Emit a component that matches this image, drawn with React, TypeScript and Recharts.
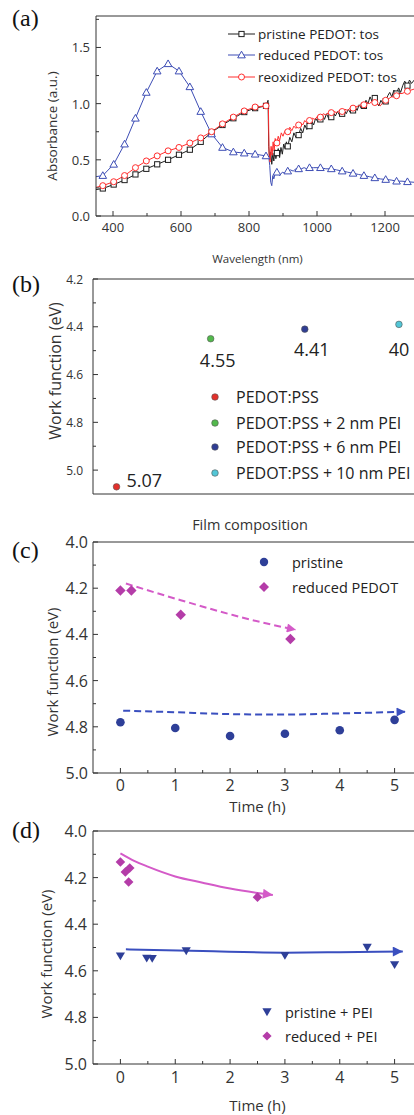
import React from 'react';
import { ComposedChart, Line, Scatter, XAxis, YAxis, Legend, ReferenceLine } from 'recharts';

const SANS = '"Open Sans", "Noto Sans", sans-serif';
const SERIF = '"Liberation Serif", "DejaVu Serif", serif';
const AXIS = '#333333';
const TXT = '#333333';

// ---------------- Panel (a) data ----------------
const A_NAMES = ['pristine PEDOT: tos', 'reduced PEDOT: tos', 'reoxidized PEDOT: tos'];
const A_COLORS = ['#1e1e1e', '#3d4db5', '#ff2e2e'];
const A_MARKER_NM = [370, 402, 434, 466, 498, 530, 562, 594, 626, 658, 690, 722, 754, 786, 818, 850,
  882, 914, 946, 978, 1010, 1042, 1074, 1106, 1138, 1170, 1202, 1234, 1266];
const A_PRISTINE: number[][] = [
  [350, 0.235], [370, 0.245], [402, 0.28], [434, 0.32], [466, 0.37], [498, 0.42], [530, 0.46], [562, 0.5],
  [594, 0.545], [626, 0.59], [658, 0.66], [690, 0.745], [722, 0.81], [754, 0.87], [786, 0.925], [818, 0.96],
  [850, 0.98], [856, 1.03], [858, 0.62], [861, 0.5], [864, 0.57], [867, 0.46], [870, 0.56], [873, 0.49],
  [876, 0.59], [879, 0.51], [882, 0.56], [886, 0.6], [890, 0.52], [894, 0.61], [898, 0.55], [902, 0.64],
  [906, 0.6], [910, 0.66], [914, 0.62], [920, 0.7], [926, 0.66], [932, 0.74], [938, 0.7], [946, 0.72],
  [952, 0.78], [958, 0.74], [964, 0.81], [970, 0.77], [978, 0.8], [984, 0.85], [990, 0.81], [996, 0.87],
  [1002, 0.84], [1010, 0.86], [1016, 0.9], [1022, 0.86], [1028, 0.91], [1034, 0.87], [1042, 0.88],
  [1048, 0.92], [1054, 0.89], [1060, 0.93], [1066, 0.9], [1074, 0.91], [1080, 0.94], [1086, 0.91],
  [1092, 0.95], [1098, 0.92], [1106, 0.94], [1112, 0.97], [1118, 0.94], [1124, 0.99], [1130, 0.96],
  [1138, 0.98], [1144, 1.03], [1150, 1.0], [1156, 1.06], [1162, 1.02], [1170, 1.05], [1176, 1.0],
  [1182, 0.98], [1188, 1.03], [1194, 1.0], [1202, 1.02], [1208, 1.07], [1214, 1.1], [1220, 1.06],
  [1226, 1.12], [1234, 1.09], [1240, 1.14], [1246, 1.1], [1252, 1.16], [1258, 1.2], [1266, 1.16],
  [1272, 1.21], [1278, 1.18], [1286, 1.21],
];
const A_REDUCED: number[][] = [
  [350, 0.35], [370, 0.36], [402, 0.46], [434, 0.64], [466, 0.87], [498, 1.1], [530, 1.29], [562, 1.355],
  [594, 1.29], [626, 1.15], [658, 0.93], [690, 0.73], [722, 0.61], [754, 0.57], [786, 0.56], [818, 0.55],
  [850, 0.535], [858, 0.53], [861, 0.45], [864, 0.3], [867, 0.27], [870, 0.36], [873, 0.33], [877, 0.38],
  [882, 0.39], [890, 0.36], [898, 0.39], [906, 0.38], [914, 0.4], [922, 0.41], [930, 0.4], [938, 0.42],
  [946, 0.42], [954, 0.42], [962, 0.43], [970, 0.42], [978, 0.43], [990, 0.43], [1000, 0.43], [1010, 0.43],
  [1026, 0.42], [1042, 0.42], [1058, 0.41], [1074, 0.4], [1090, 0.39], [1106, 0.38], [1122, 0.37],
  [1138, 0.36], [1154, 0.35], [1170, 0.34], [1186, 0.33], [1202, 0.325], [1218, 0.32], [1234, 0.31],
  [1250, 0.31], [1266, 0.305], [1286, 0.3],
];
const A_REOX: number[][] = [
  [350, 0.255], [370, 0.27], [402, 0.305], [434, 0.36], [466, 0.43], [498, 0.49], [530, 0.535], [562, 0.58],
  [594, 0.61], [626, 0.65], [658, 0.695], [690, 0.75], [722, 0.82], [754, 0.88], [786, 0.935], [818, 0.97],
  [850, 0.98], [857, 0.99], [859, 0.55], [862, 0.48], [865, 0.62], [868, 0.54], [871, 0.66], [874, 0.58],
  [877, 0.69], [882, 0.65], [886, 0.71], [890, 0.67], [895, 0.74], [900, 0.71], [906, 0.76], [914, 0.75],
  [920, 0.79], [926, 0.76], [932, 0.8], [938, 0.78], [946, 0.81], [952, 0.83], [958, 0.81], [964, 0.85],
  [970, 0.83], [978, 0.85], [986, 0.87], [994, 0.86], [1002, 0.89], [1010, 0.88], [1018, 0.91],
  [1026, 0.9], [1034, 0.92], [1042, 0.92], [1050, 0.93], [1058, 0.92], [1066, 0.94], [1074, 0.93],
  [1082, 0.95], [1090, 0.94], [1098, 0.96], [1106, 0.96], [1114, 0.97], [1122, 0.98], [1130, 0.99],
  [1138, 0.99], [1146, 1.01], [1154, 1.0], [1162, 1.02], [1170, 1.01], [1178, 1.0], [1186, 0.98],
  [1194, 1.01], [1202, 1.03], [1210, 1.04], [1218, 1.06], [1226, 1.06], [1234, 1.07], [1242, 1.09],
  [1250, 1.09], [1258, 1.1], [1266, 1.11], [1276, 1.12], [1286, 1.13],
];
const A_X_MAJOR = [400, 600, 800, 1000, 1200];
const A_X_MINOR = [500, 700, 900, 1100];
const A_Y_MAJOR = [0, 0.5, 1.0, 1.5];
const A_Y_MINOR = [0.25, 0.75, 1.25, 1.75];

// ---------------- Panel (b) data ----------------
const B_NAMES = ['PEDOT:PSS', 'PEDOT:PSS + 2 nm PEI', 'PEDOT:PSS + 6 nm PEI', 'PEDOT:PSS + 10 nm PEI'];
const B_POS = [1, 2, 3, 4];
const B_WF = [5.07, 4.45, 4.41, 4.39];
const B_LABELS = ['5.07', '4.55', '4.41', '40'];
const B_COLORS = ['#e3302b', '#52b94c', '#2f3d94', '#52c6d6'];
const B_Y_MAJOR = [4.2, 4.4, 4.6, 4.8, 5.0];
const B_Y_MINOR = [4.3, 4.5, 4.7, 4.9];

// ---------------- Panel (c) data ----------------
const C_NAMES = ['pristine', 'reduced PEDOT'];
const C_PRISTINE_T = [0, 1, 2, 3, 4, 5];
const C_PRISTINE_WF = [4.78, 4.805, 4.84, 4.83, 4.815, 4.77];
const C_REDUCED_T = [0, 0.2, 1.1, 3.1];
const C_REDUCED_WF = [4.21, 4.21, 4.315, 4.42];
const C_TREND_RED_T = [0.1, 1.1, 2.05, 2.65, 3.2];
const C_TREND_RED_WF = [4.18, 4.252, 4.316, 4.352, 4.38];
const C_TREND_PRI_T = [0.05, 1, 2, 3, 4, 5.2];
const C_TREND_PRI_WF = [4.73, 4.737, 4.745, 4.747, 4.742, 4.735];

// ---------------- Panel (d) data ----------------
const D_NAMES = ['pristine + PEI', 'reduced + PEI'];
const D_PRISTINE_T = [0, 0.48, 0.58, 1.2, 3, 4.5, 5];
const D_PRISTINE_WF = [4.537, 4.547, 4.548, 4.515, 4.535, 4.5, 4.575];
const D_REDUCED_T = [0, 0.09, 0.17, 0.15, 2.5];
const D_REDUCED_WF = [4.133, 4.176, 4.159, 4.219, 4.284];
const D_TREND_RED_T = [0, 0.25, 0.5, 1.0, 1.5, 2.0, 2.5, 2.78];
const D_TREND_RED_WF = [4.096, 4.128, 4.153, 4.195, 4.222, 4.247, 4.266, 4.275];
const D_TREND_PRI_T = [0.1, 1.5, 3, 4, 5.15];
const D_TREND_PRI_WF = [4.508, 4.515, 4.522, 4.52, 4.517];

const T_X_MAJOR = [0, 1, 2, 3, 4, 5];
const T_X_MINOR = [0.5, 1.5, 2.5, 3.5, 4.5];
const T_Y_MAJOR = [4.0, 4.2, 4.4, 4.6, 4.8, 5.0];
const T_Y_MINOR = [4.1, 4.3, 4.5, 4.7, 4.9];

// ---------------- helpers ----------------
const pairs = (arr: number[][]) => arr.map(([x, y]) => ({ x, y }));
const zip = (xs: number[], ys: number[]) => xs.map((x, i) => ({ x, y: ys[i] }));
const isIn = (arr: number[], v: number) => arr.some((a) => Math.abs(a - v) < 1e-6);
const f1 = (v: number) => v.toFixed(1);
const f0 = (v: number) => String(v);

type TickOpt = { major: number[]; fmt: (v: number) => string; size: number; margin: number; len?: number; minorLen?: number };

const xTick = (o: TickOpt) => (props: any) => {
  const { x, y, payload } = props;
  const v = Number(payload.value);
  const major = isIn(o.major, v);
  const ay = y - o.margin;
  return (
    <g>
      <line x1={x} x2={x} y1={ay} y2={ay - (major ? (o.len ?? 5) : (o.minorLen ?? 3))} stroke={AXIS} strokeWidth={1} />
      {major ? (
        <text x={x} y={y} textAnchor="middle" dominantBaseline="central" fontSize={o.size} fontFamily={SANS} fill={TXT}>
          {o.fmt(v)}
        </text>
      ) : null}
    </g>
  );
};

const yTick = (o: TickOpt) => (props: any) => {
  const { x, y, payload } = props;
  const v = Number(payload.value);
  const major = isIn(o.major, v);
  const ax = x + o.margin;
  return (
    <g>
      <line x1={ax} x2={ax + (major ? (o.len ?? 5) : (o.minorLen ?? 3))} y1={y} y2={y} stroke={AXIS} strokeWidth={1} />
      {major ? (
        <text x={x} y={y} textAnchor="end" dominantBaseline="central" fontSize={o.size} fontFamily={SANS} fill={TXT}>
          {o.fmt(v)}
        </text>
      ) : null}
    </g>
  );
};

const hTitle = (text: string, cx: number, cy: number, size: number) => () => (
  <text x={cx} y={cy} textAnchor="middle" dominantBaseline="central" fontSize={size} fontFamily={SANS} fill={TXT}>
    {text}
  </text>
);
const vTitle = (text: string, cx: number, cy: number, size: number) => () => (
  <text x={cx} y={cy} transform={`rotate(-90 ${cx} ${cy})`} textAnchor="middle" dominantBaseline="central" fontSize={size} fontFamily={SANS} fill={TXT}>
    {text}
  </text>
);

// markers
const square = (cx: number, cy: number, c: string, s = 2.6) => (
  <rect x={cx - s} y={cy - s} width={2 * s} height={2 * s} fill="#fff" stroke={c} strokeWidth={1} />
);
const triUp = (cx: number, cy: number, c: string, s = 3.8) => (
  <polygon points={`${cx},${cy - s} ${cx + s},${cy + s * 0.75} ${cx - s},${cy + s * 0.75}`} fill="#fff" stroke={c} strokeWidth={1} />
);
const ring = (cx: number, cy: number, c: string, r = 3) => <circle cx={cx} cy={cy} r={r} fill="#fff" stroke={c} strokeWidth={1} />;
const diamond = (cx: number, cy: number, c: string, s = 5) => (
  <polygon points={`${cx},${cy - s} ${cx + s},${cy} ${cx},${cy + s} ${cx - s},${cy}`} fill={c} />
);
const triDown = (cx: number, cy: number, c: string, s = 4.6) => (
  <polygon points={`${cx - s},${cy - s * 0.8} ${cx + s},${cy - s * 0.8} ${cx},${cy + s * 0.9}`} fill={c} />
);
const A_MARKERS = [square, triUp, ring];

const aDot = (idx: number) => (props: any) => {
  const { cx, cy, payload, index } = props;
  if (!payload || !isIn(A_MARKER_NM, payload.x) || cx == null) return <g key={`d${idx}-${index}`} />;
  return <g key={`d${idx}-${index}`}>{A_MARKERS[idx](cx, cy, A_COLORS[idx])}</g>;
};

const svgLegend = (children: React.ReactNode) => (
  <svg width={1} height={1} style={{ overflow: 'visible', position: 'absolute', left: 0, top: 0 }}>
    {children}
  </svg>
);

const legendA = () =>
  svgLegend(
    A_NAMES.map((n, i) => {
      const y = [34, 55, 77][i];
      return (
        <g key={n}>
          <line x1={228} x2={255} y1={y} y2={y} stroke={A_COLORS[i]} strokeWidth={1} />
          {A_MARKERS[i](241.5, y, A_COLORS[i])}
          <text x={258} y={y} dominantBaseline="central" fontSize={13.5} fontFamily={SANS} fill="#222">
            {n}
          </text>
        </g>
      );
    })
  );

const legendB = () =>
  svgLegend(
    B_NAMES.map((n, i) => {
      const y = [127, 153, 177, 203][i];
      return (
        <g key={n}>
          <circle cx={215} cy={y} r={3.3} fill={B_COLORS[i]} stroke="#555" strokeWidth={0.6} />
          <text x={236} y={y} dominantBaseline="central" fontSize={16} fontFamily={SANS} fill="#222">
            {n}
          </text>
        </g>
      );
    })
  );

const C_BLUE = '#2e3f98';
const C_MAG = '#b43ca8';
const C_MAG_LINE = '#d45ac8';
const C_BLUE_LINE = '#3a4fbf';

const legendC = () =>
  svgLegend(
    <g>
      <circle cx={264} cy={62} r={4.2} fill={C_BLUE} />
      <text x={292} y={62} dominantBaseline="central" fontSize={14.5} fontFamily={SANS} fill="#222">{C_NAMES[0]}</text>
      {diamond(264, 87, C_MAG)}
      <text x={292} y={87} dominantBaseline="central" fontSize={14.5} fontFamily={SANS} fill="#222">{C_NAMES[1]}</text>
    </g>
  );

const legendD = () =>
  svgLegend(
    <g>
      {triDown(267, 197, C_BLUE)}
      <text x={285} y={197} dominantBaseline="central" fontSize={14.5} fontFamily={SANS} fill="#222">{D_NAMES[0]}</text>
      {diamond(267, 221, C_MAG, 4.6)}
      <text x={285} y={221} dominantBaseline="central" fontSize={14.5} fontFamily={SANS} fill="#222">{D_NAMES[1]}</text>
    </g>
  );

const LEG_PROPS: any = {
  layout: 'vertical',
  align: 'center',
  verticalAlign: 'middle',
  wrapperStyle: { left: 0, top: 0, width: 1, height: 1 },
};

const B_OFFSETS = [
  { dx: 10, dy: -7, anchor: 'start' },
  { dx: 7, dy: 21, anchor: 'middle' },
  { dx: 7, dy: 20, anchor: 'middle' },
  { dx: 0, dy: 25, anchor: 'middle' },
];

const bShape = (i: number) => (props: any) => {
  const { cx, cy, payload } = props;
  const o = B_OFFSETS[i];
  return (
    <g>
      <circle cx={cx} cy={cy} r={3.3} fill={B_COLORS[i]} stroke="#555" strokeWidth={0.6} />
      <text x={cx + o.dx} y={cy + o.dy} textAnchor={o.anchor as any} dominantBaseline="central" fontSize={18} fontFamily={SANS} fill="#222">
        {payload.label}
      </text>
    </g>
  );
};

export default function App() {
  return (
    <div style={{ position: 'absolute', left: 0, top: 0, width: 414, height: 1115, overflow: 'hidden', background: '#fff' }}>
      <svg width={0} height={0} style={{ position: 'absolute' }}>
        <defs>
          <marker id="arrMagC" viewBox="0 0 10 10" refX="10" refY="5" markerWidth="11" markerHeight="9" markerUnits="userSpaceOnUse" orient="auto">
            <path d="M0,0 L10,5 L0,10 z" fill={C_MAG_LINE} />
          </marker>
          <marker id="arrBlueC" viewBox="0 0 10 10" refX="10" refY="5" markerWidth="11" markerHeight="9" markerUnits="userSpaceOnUse" orient="auto">
            <path d="M0,0 L10,5 L0,10 z" fill={C_BLUE_LINE} />
          </marker>
          <marker id="arrMagD" viewBox="0 0 10 10" refX="10" refY="5" markerWidth="12" markerHeight="10" markerUnits="userSpaceOnUse" orient="auto">
            <path d="M0,0 L10,5 L0,10 z" fill={C_MAG_LINE} />
          </marker>
          <marker id="arrBlueD" viewBox="0 0 10 10" refX="10" refY="5" markerWidth="12" markerHeight="10" markerUnits="userSpaceOnUse" orient="auto">
            <path d="M0,0 L10,5 L0,10 z" fill={C_BLUE_LINE} />
          </marker>
        </defs>
      </svg>

      {/* Panel (a) */}
      <div style={{ position: 'absolute', left: 0, top: 0 }}>
        <ComposedChart width={419} height={270} margin={{ top: 16, right: 0, bottom: 0, left: 0 }}>
          <XAxis
            type="number" dataKey="x" domain={[350, 1300]} allowDataOverflow
            ticks={[...A_X_MAJOR, ...A_X_MINOR]} interval={0} tickSize={0} tickMargin={11} tickLine={false}
            tick={xTick({ major: A_X_MAJOR, fmt: f0, size: 13, margin: 11 })}
            axisLine={{ stroke: AXIS }} height={54}
            label={{ value: 'Wavelength (nm)', content: hTitle('Wavelength (nm)', 257.5, 258, 11.5) }}
          />
          <YAxis
            type="number" dataKey="y" domain={[0, 1.78]} allowDataOverflow
            ticks={[...A_Y_MAJOR, ...A_Y_MINOR]} interval={0} tickSize={0} tickMargin={6} tickLine={false}
            tick={yTick({ major: A_Y_MAJOR, fmt: f1, size: 13, margin: 6 })}
            axisLine={{ stroke: AXIS }} width={96}
            label={{ value: 'Absorbance (a.u.)', content: vTitle('Absorbance (a.u.)', 52, 126, 13.5) }}
          />
          <ReferenceLine y={1.78} stroke={AXIS} />
          <Line data={pairs(A_PRISTINE)} dataKey="y" name={A_NAMES[0]} type="linear" stroke={A_COLORS[0]} strokeWidth={1} dot={aDot(0)} activeDot={false} isAnimationActive={false} />
          <Line data={pairs(A_REDUCED)} dataKey="y" name={A_NAMES[1]} type="linear" stroke={A_COLORS[1]} strokeWidth={1} dot={aDot(1)} activeDot={false} isAnimationActive={false} />
          <Line data={pairs(A_REOX)} dataKey="y" name={A_NAMES[2]} type="linear" stroke={A_COLORS[2]} strokeWidth={1} dot={aDot(2)} activeDot={false} isAnimationActive={false} />
          <Legend {...LEG_PROPS} content={legendA} />
        </ComposedChart>
      </div>

      {/* Panel (b) */}
      <div style={{ position: 'absolute', left: 0, top: 270 }}>
        <ComposedChart width={446} height={230} margin={{ top: 9, right: 0, bottom: 0, left: 0 }}>
          <XAxis type="number" dataKey="x" domain={[0.75, 4.5]} allowDataOverflow tick={false} tickLine={false} axisLine={{ stroke: AXIS }} height={6} />
          <YAxis
            type="number" dataKey="y" domain={[4.2, 5.1]} reversed allowDataOverflow
            ticks={[...B_Y_MAJOR, ...B_Y_MINOR]} interval={0} tickSize={0} tickMargin={10} tickLine={false}
            tick={yTick({ major: B_Y_MAJOR, fmt: f1, size: 12, margin: 10 })}
            axisLine={{ stroke: AXIS }} width={93}
            label={{ value: 'Work function (eV)', content: vTitle('Work function (eV)', 55, 101, 16) }}
          />
          <ReferenceLine y={4.2} stroke={AXIS} />
          {B_NAMES.map((n, i) => (
            <Scatter key={n} name={n} data={[{ x: B_POS[i], y: B_WF[i], label: B_LABELS[i] }]} fill={B_COLORS[i]} shape={bShape(i)} isAnimationActive={false} />
          ))}
          <Legend {...LEG_PROPS} content={legendB} />
        </ComposedChart>
      </div>

      {/* Panel (c) */}
      <div style={{ position: 'absolute', left: 0, top: 500 }}>
        <ComposedChart width={422} height={330} margin={{ top: 42, right: 0, bottom: 0, left: 0 }}>
          <XAxis
            type="number" dataKey="x" domain={[-0.5, 5.5]} allowDataOverflow
            ticks={[...T_X_MAJOR, ...T_X_MINOR]} interval={0} tickSize={0} tickMargin={12} tickLine={false}
            tick={xTick({ major: T_X_MAJOR, fmt: f0, size: 16, margin: 12 })}
            axisLine={{ stroke: AXIS }} height={57}
            label={{ value: 'Time (h)', content: hTitle('Time (h)', 257.5, 306, 15) }}
          />
          <YAxis
            type="number" dataKey="y" domain={[4.0, 5.0]} reversed allowDataOverflow
            ticks={[...T_Y_MAJOR, ...T_Y_MINOR]} interval={0} tickSize={0} tickMargin={5} tickLine={false}
            tick={yTick({ major: T_Y_MAJOR, fmt: f1, size: 16, margin: 5 })}
            axisLine={{ stroke: AXIS }} width={93}
            label={{ value: 'Work function (eV)', content: vTitle('Work function (eV)', 52, 172, 15) }}
          />
          <ReferenceLine y={4.0} stroke={AXIS} label={{ value: 'Film composition', content: hTitle('Film composition', 250, 24, 14.5) }} />
          <Line data={zip(C_TREND_RED_T, C_TREND_RED_WF)} dataKey="y" name="trend reduced" type="monotone" stroke={C_MAG_LINE} strokeWidth={2} strokeDasharray="7 4" dot={false} activeDot={false} legendType="none" markerEnd="url(#arrMagC)" isAnimationActive={false} />
          <Line data={zip(C_TREND_PRI_T, C_TREND_PRI_WF)} dataKey="y" name="trend pristine" type="monotone" stroke={C_BLUE_LINE} strokeWidth={2} strokeDasharray="7 4" dot={false} activeDot={false} legendType="none" markerEnd="url(#arrBlueC)" isAnimationActive={false} />
          <Scatter name={C_NAMES[0]} data={zip(C_PRISTINE_T, C_PRISTINE_WF)} fill={C_BLUE} shape={(p: any) => <circle cx={p.cx} cy={p.cy} r={4.3} fill={C_BLUE} />} isAnimationActive={false} />
          <Scatter name={C_NAMES[1]} data={zip(C_REDUCED_T, C_REDUCED_WF)} fill={C_MAG} shape={(p: any) => diamond(p.cx, p.cy, C_MAG, 5.2)} isAnimationActive={false} />
          <Legend {...LEG_PROPS} content={legendC} />
        </ComposedChart>
      </div>

      {/* Panel (d) */}
      <div style={{ position: 'absolute', left: 0, top: 815 }}>
        <ComposedChart width={422} height={310} margin={{ top: 16, right: 0, bottom: 0, left: 0 }}>
          <XAxis
            type="number" dataKey="x" domain={[-0.5, 5.5]} allowDataOverflow
            ticks={[...T_X_MAJOR, ...T_X_MINOR]} interval={0} tickSize={0} tickMargin={13} tickLine={false}
            tick={xTick({ major: T_X_MAJOR, fmt: f0, size: 16, margin: 13 })}
            axisLine={{ stroke: AXIS }} height={61}
            label={{ value: 'Time (h)', content: hTitle('Time (h)', 257.5, 290, 15) }}
          />
          <YAxis
            type="number" dataKey="y" domain={[4.0, 5.0]} reversed allowDataOverflow
            ticks={[...T_Y_MAJOR, ...T_Y_MINOR]} interval={0} tickSize={0} tickMargin={6} tickLine={false}
            tick={yTick({ major: T_Y_MAJOR, fmt: f1, size: 16, margin: 6 })}
            axisLine={{ stroke: AXIS }} width={93}
            label={{ value: 'Work function (eV)', content: vTitle('Work function (eV)', 46, 139, 15) }}
          />
          <ReferenceLine y={4.0} stroke={AXIS} />
          <Line data={zip(D_TREND_RED_T, D_TREND_RED_WF)} dataKey="y" name="trend reduced" type="monotone" stroke={C_MAG_LINE} strokeWidth={2} dot={false} activeDot={false} legendType="none" markerEnd="url(#arrMagD)" isAnimationActive={false} />
          <Line data={zip(D_TREND_PRI_T, D_TREND_PRI_WF)} dataKey="y" name="trend pristine" type="monotone" stroke={C_BLUE_LINE} strokeWidth={2} dot={false} activeDot={false} legendType="none" markerEnd="url(#arrBlueD)" isAnimationActive={false} />
          <Scatter name={D_NAMES[0]} data={zip(D_PRISTINE_T, D_PRISTINE_WF)} fill={C_BLUE} shape={(p: any) => triDown(p.cx, p.cy, C_BLUE)} isAnimationActive={false} />
          <Scatter name={D_NAMES[1]} data={zip(D_REDUCED_T, D_REDUCED_WF)} fill={C_MAG} shape={(p: any) => diamond(p.cx, p.cy, C_MAG, 4.8)} isAnimationActive={false} />
          <Legend {...LEG_PROPS} content={legendD} />
        </ComposedChart>
      </div>

      {/* panel letters */}
      <svg width={414} height={1115} style={{ position: 'absolute', left: 0, top: 0, pointerEvents: 'none' }}>
        {[
          ['(a)', 18],
          ['(b)', 284],
          ['(c)', 550],
          ['(d)', 830],
        ].map(([t, y]) => (
          <text key={t as string} x={12} y={y as number} dominantBaseline="central" fontSize={24} fontFamily={SERIF} fill="#111">
            {t}
          </text>
        ))}
      </svg>
    </div>
  );
}
